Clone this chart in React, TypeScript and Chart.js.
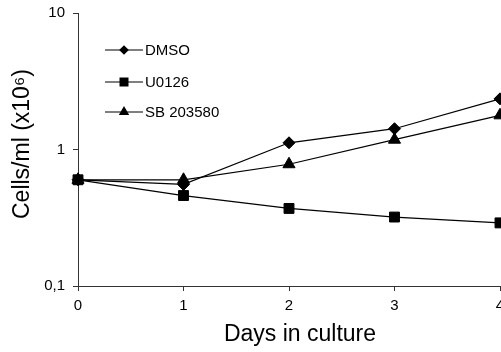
import React, { useEffect, useRef } from "react";
import { Chart, registerables } from "chart.js";

Chart.register(...registerables);

const days = [0, 1, 2, 3, 4];
const dmso = [0.6, 0.555, 1.12, 1.42, 2.35];
const u0126 = [0.6, 0.46, 0.37, 0.32, 0.29];
const sb203580 = [0.6, 0.6, 0.78, 1.18, 1.78];

const seriesLabels = ["DMSO", "U0126", "SB 203580"];
const seriesMarkers = ["rectRot", "rect", "triangle"];

const yTickValues = [0.1, 1, 10];
const yTickLabels = ["0,1", "1", "10"];
const xTickValues = [0, 1, 2, 3, 4];

const xTitle = "Days in culture";
const yTitle = "Cells/ml (x10\u2076)";

const FONT = "'Liberation Sans', Arial, Helvetica, sans-serif";

function drawMarker(ctx: CanvasRenderingContext2D, style: string, x: number, y: number) {
  ctx.beginPath();
  if (style === "rectRot") {
    const r = 4.8;
    ctx.moveTo(x, y - r);
    ctx.lineTo(x + r, y);
    ctx.lineTo(x, y + r);
    ctx.lineTo(x - r, y);
    ctx.closePath();
  } else if (style === "rect") {
    const h = 4.5;
    ctx.rect(x - h, y - h, 2 * h, 2 * h);
  } else {
    const r = 6;
    ctx.moveTo(x, y - r);
    ctx.lineTo(x + r * 0.866, y + r * 0.5);
    ctx.lineTo(x - r * 0.866, y + r * 0.5);
    ctx.closePath();
  }
  ctx.fill();
}

const overlayPlugin = {
  id: "overlay",
  afterDraw(chart: any) {
    const ctx: CanvasRenderingContext2D = chart.ctx;
    ctx.save();
    // legend
    const rows = [50, 82, 112];
    seriesLabels.forEach((label, i) => {
      const y = rows[i];
      ctx.strokeStyle = "#000";
      ctx.lineWidth = 1.2;
      ctx.beginPath();
      ctx.moveTo(105, y);
      ctx.lineTo(143, y);
      ctx.stroke();
      ctx.fillStyle = "#000";
      drawMarker(ctx, seriesMarkers[i], 124, y);
      ctx.font = `15px ${FONT}`;
      ctx.textAlign = "left";
      ctx.textBaseline = "middle";
      ctx.fillText(label, 145, y + 0.5);
    });
    // axis titles
    ctx.fillStyle = "#000";
    ctx.font = `23px ${FONT}`;
    ctx.textAlign = "center";
    ctx.textBaseline = "middle";
    ctx.fillText(xTitle, 300, 335);
    ctx.translate(23, 144);
    ctx.rotate(-Math.PI / 2);
    ctx.fillText(yTitle, 0, 0);
    ctx.restore();
  },
};

export default function App() {
  const ref = useRef<HTMLCanvasElement | null>(null);
  useEffect(() => {
    if (!ref.current) return;
    const mk = (arr: number[]) => days.map((d, i) => ({ x: d, y: arr[i] }));
    const common = {
      borderColor: "#000",
      backgroundColor: "#000",
      pointBackgroundColor: "#000",
      pointBorderColor: "#000",
      borderWidth: 1.2,
      pointBorderWidth: 1,
      showLine: true,
      fill: false,
      tension: 0,
      clip: false as any,
    };
    const chart = new Chart(ref.current, {
      type: "line",
      data: {
        datasets: [
          { ...common, label: seriesLabels[1], data: mk(u0126), pointStyle: "rect", pointRadius: 7, order: 0 },
          { ...common, label: seriesLabels[0], data: mk(dmso), pointStyle: "rectRot", pointRadius: 6, order: 1 },
          { ...common, label: seriesLabels[2], data: mk(sb203580), pointStyle: "triangle", pointRadius: 7, order: 2 },
        ] as any,
      },
      options: {
        animation: false,
        responsive: false,
        devicePixelRatio: 1,
        layout: { autoPadding: false, padding: { top: 13, right: 1, left: 0, bottom: 0 } } as any,
        plugins: { legend: { display: false }, tooltip: { enabled: false } },
        scales: {
          x: {
            type: "linear",
            min: 0,
            max: 4,
            afterBuildTicks: (s: any) => {
              s.ticks = xTickValues.map((v) => ({ value: v }));
            },
            afterFit: (s: any) => {
              s.height = 66;
              s.paddingLeft = 0;
              s.paddingRight = 0;
            },
            ticks: {
              font: { size: 15, family: FONT },
              color: "#000",
              padding: 6,
              maxRotation: 0,
              autoSkip: false,
            },
            grid: { display: true, drawOnChartArea: false, drawTicks: true, tickLength: 5, color: "#333", lineWidth: 1 },
            border: { display: true, color: "#333", width: 1 },
          },
          y: {
            type: "logarithmic",
            min: 0.1,
            max: 10,
            afterBuildTicks: (s: any) => {
              s.ticks = yTickValues.map((v) => ({ value: v }));
            },
            afterFit: (s: any) => {
              s.width = 78;
              s.paddingTop = 0;
              s.paddingBottom = 0;
            },
            ticks: {
              font: { size: 15, family: FONT },
              color: "#000",
              padding: 8,
              autoSkip: false,
              callback: (v: any) => {
                const i = yTickValues.findIndex((t) => Math.abs(t - Number(v)) < 1e-9);
                return i >= 0 ? yTickLabels[i] : "";
              },
            },
            grid: { display: true, drawOnChartArea: false, drawTicks: true, tickLength: 5, color: "#333", lineWidth: 1 },
            border: { display: true, color: "#333", width: 1 },
          },
        },
      },
      plugins: [overlayPlugin],
    });
    return () => chart.destroy();
  }, []);
  return (
    <div style={{ position: "fixed", left: 0, top: 0, width: 501, height: 352, background: "#fff" }}>
      <canvas ref={ref} width={501} height={352} style={{ display: "block" }} />
    </div>
  );
}
